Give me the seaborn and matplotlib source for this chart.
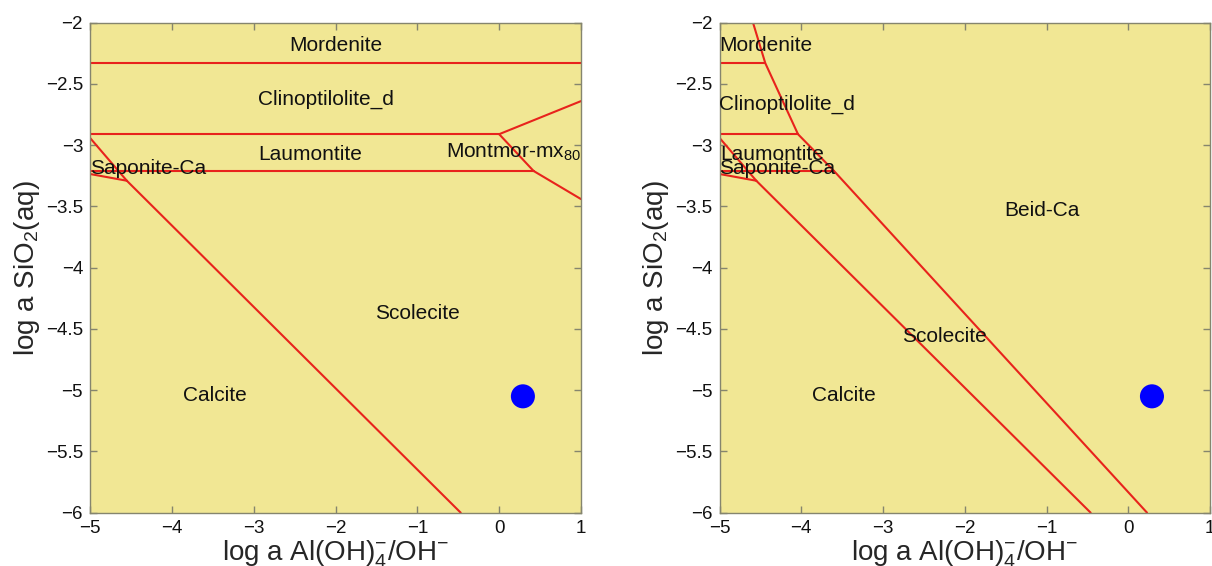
import matplotlib
matplotlib.use("Agg")
import matplotlib.pyplot as plt
from matplotlib.ticker import FuncFormatter
import pandas as pd
import seaborn as sns

# ---- phase boundaries (log a Al(OH)4-/OH-, log a SiO2) ----
# left diagram
left_segments = {
    "mordenite_clino": ([-5.0, 1.0], [-2.33, -2.33]),
    "clino_laumontite": ([-5.0, 0.0], [-2.91, -2.91]),
    "laumontite_low": ([-5.0, 0.42], [-3.21, -3.21]),
    "montmor_upper": ([0.0, 1.0], [-2.91, -2.64]),
    "montmor_left": ([0.0, 0.42], [-2.91, -3.21]),
    "montmor_lower": ([0.42, 1.0], [-3.21, -3.44]),
    "saponite_upper": ([-5.0, -4.55], [-2.94, -3.29]),
    "saponite_lower": ([-5.0, -4.55], [-3.235, -3.29]),
    "calcite_scolecite": ([-4.55, -0.47], [-3.29, -6.0]),
}
# right diagram
right_segments = {
    "mordenite_clino": ([-5.0, -4.44], [-2.33, -2.33]),
    "clino_laumontite": ([-5.0, -4.04], [-2.91, -2.91]),
    "laumontite_low": ([-5.0, -3.60], [-3.21, -3.21]),
    "beid_boundary": ([-4.59, -4.44, -4.04, -3.60, 0.23], [-2.0, -2.33, -2.91, -3.21, -6.0]),
    "saponite_upper": ([-5.0, -4.55], [-2.94, -3.29]),
    "saponite_lower": ([-5.0, -4.55], [-3.235, -3.29]),
    "calcite_scolecite": ([-4.55, -0.46], [-3.29, -6.0]),
}

# ---- field labels ----
left_names = ["Mordenite", "Clinoptilolite_d", "Laumontite", r"Montmor-mx$_{80}$",
              "Saponite-Ca", "Scolecite", "Calcite"]
left_name_x = [-2.0, -2.12, -2.31, 0.995, -5.0, -1.0, -3.48]
left_name_y = [-2.19, -2.63, -3.08, -3.06, -3.19, -4.37, -5.04]
left_name_ha = ["center", "center", "center", "right", "left", "center", "center"]

right_names = ["Mordenite", "Clinoptilolite_d", "Laumontite", "Saponite-Ca",
               "Beid-Ca", "Scolecite", "Calcite"]
right_name_x = [-5.0, -5.0, -4.99, -5.0, -1.05, -2.25, -3.48]
right_name_y = [-2.19, -2.67, -3.08, -3.19, -3.53, -4.56, -5.04]
right_name_ha = ["left", "left", "left", "left", "center", "center", "center"]

# ---- sample composition ----
sample_x = [0.29]
sample_y = [-5.05]

x_ticks = [-5, -4, -3, -2, -1, 0, 1]
y_ticks = [-6, -5.5, -5, -4.5, -4, -3.5, -3, -2.5, -2]

FIELD = "#F1E794"
LINE_RED = "#E8231C"
FRAME = "#85856E"

sns.set_theme(style="ticks")
plt.rcParams["font.family"] = ["Liberation Sans", "DejaVu Sans"]
plt.rcParams["mathtext.fontset"] = "custom"
plt.rcParams["mathtext.rm"] = "Liberation Sans"
plt.rcParams["mathtext.it"] = "Liberation Sans:italic"
plt.rcParams["mathtext.bf"] = "Liberation Sans:bold"

fig = plt.figure(figsize=(12.12, 5.66), dpi=100)
ax_left = fig.add_axes([90 / 1212, 53.3 / 566, 491 / 1212, 490 / 566])
ax_right = fig.add_axes([719.5 / 1212, 53.3 / 566, 490.5 / 1212, 490 / 566])


def seg_frame(segments):
    rows = []
    for name, (xs, ys) in segments.items():
        for xv, yv in zip(xs, ys):
            rows.append({"segment": name, "x": xv, "y": yv})
    return pd.DataFrame(rows)


fmt = FuncFormatter(lambda v, p: f"{v:g}".replace("-", "\u2212"))


def draw(ax, segments, names, nx, ny, nha):
    ax.set_facecolor(FIELD)
    df = seg_frame(segments)
    sns.lineplot(data=df, x="x", y="y", units="segment", estimator=None,
                 sort=False, color=LINE_RED, linewidth=1.5, ax=ax, legend=False)
    sns.scatterplot(x=sample_x, y=sample_y, s=300, color="#0000FF",
                    edgecolor="none", ax=ax, zorder=5, legend=False)
    for t, xv, yv, ha in zip(names, nx, ny, nha):
        ax.text(xv, yv, t, ha=ha, va="center", fontsize=15, color="#111111")
    ax.set_xlim(-5, 1)
    ax.set_ylim(-6, -2)
    ax.set_xticks(x_ticks)
    ax.set_yticks(y_ticks)
    ax.xaxis.set_major_formatter(fmt)
    ax.yaxis.set_major_formatter(fmt)
    ax.tick_params(direction="in", length=5, width=1, color=FRAME,
                   labelsize=13.5, top=True, right=True, pad=5,
                   labelcolor="#111111")
    for sp in ax.spines.values():
        sp.set_color(FRAME)
        sp.set_linewidth(1.0)
    ax.set_xlabel(r"log a Al(OH)$_4^{-}$/OH$^{-}$", fontsize=20, labelpad=1)
    ax.set_ylabel(r"log a SiO$_2$(aq)", fontsize=20, labelpad=3)


draw(ax_left, left_segments, left_names, left_name_x, left_name_y, left_name_ha)
draw(ax_right, right_segments, right_names, right_name_x, right_name_y, right_name_ha)

fig.savefig("out.png", dpi=100, facecolor="white")
